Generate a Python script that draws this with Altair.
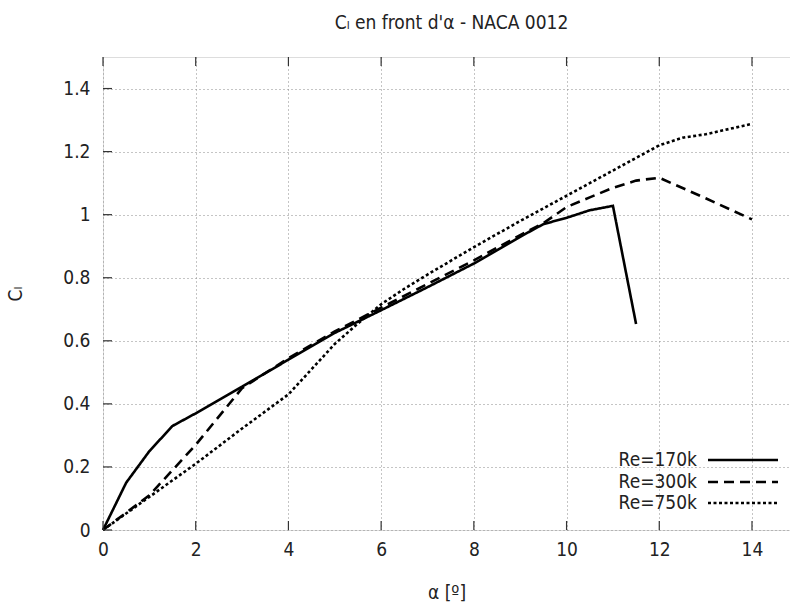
import altair as alt
import pandas as pd

# ---- data ----
series = ["Re=170k", "Re=300k", "Re=750k"]

a_170 = [0, 0.5, 1, 1.5, 2, 3, 4, 5, 6, 7, 8, 9, 9.5, 10, 10.5, 11, 11.5]
cl_170 = [0, 0.15, 0.25, 0.33, 0.37, 0.455, 0.54, 0.625, 0.697, 0.77, 0.845,
          0.93, 0.97, 0.99, 1.014, 1.028, 0.653]

a_300 = [0, 1, 2, 3, 4, 5, 6, 7, 8, 9, 9.5, 10, 10.5, 11, 11.5, 12, 13, 14]
cl_300 = [0, 0.11, 0.27, 0.45, 0.545, 0.63, 0.705, 0.78, 0.855, 0.935, 0.973,
          1.024, 1.055, 1.085, 1.108, 1.117, 1.052, 0.985]

a_750 = [0, 1, 2, 3, 4, 5, 5.5, 6, 6.5, 7, 8, 9, 10, 11, 12, 12.5, 13, 14]
cl_750 = [0, 0.105, 0.21, 0.322, 0.43, 0.59, 0.655, 0.716, 0.765, 0.81, 0.897,
          0.98, 1.06, 1.14, 1.22, 1.244, 1.255, 1.288]

x_ticks = [0, 2, 4, 6, 8, 10, 12, 14]
y_ticks = [0, 0.2, 0.4, 0.6, 0.8, 1.0, 1.2, 1.4]

dashes = [[1, 0], [10, 6], [3, 2.5]]

X_DOM = [0, 14.82]
Y_DOM = [0, 1.5]
W, H = 687, 473
FONT = "DejaVu Sans Condensed, DejaVu Sans"
FS = 19

rows = []
for name, xs, ys in zip(series, [a_170, a_300, a_750], [cl_170, cl_300, cl_750]):
    for i, (a, c) in enumerate(zip(xs, ys)):
        rows.append({"series": name, "a": a, "cl": c, "order": i})
df = pd.DataFrame(rows)

xs = alt.Scale(domain=X_DOM, nice=False, zero=False)
ys = alt.Scale(domain=Y_DOM, nice=False, zero=False)

x_enc = alt.X("a:Q", scale=xs, axis=alt.Axis(
    values=x_ticks, title="α [º]", grid=True, gridDash=[1, 3], gridColor="#8a8a8a",
    gridOpacity=1, domain=False, ticks=False, labelFontSize=FS, labelFont=FONT,
    labelColor="#222", labelPadding=10, titleFont=FONT, titleFontSize=FS,
    titleFontWeight="normal", titleColor="#222", titlePadding=24, labelFlush=False))
y_enc = alt.Y("cl:Q", scale=ys, axis=alt.Axis(
    values=y_ticks, title="Cₗ", format="~g", grid=True, gridDash=[1, 3],
    gridColor="#8a8a8a", gridOpacity=1, domain=False, ticks=False, labelFontSize=FS,
    labelFont=FONT, labelColor="#222", labelPadding=13, titleFont=FONT,
    titleFontSize=FS, titleFontWeight="normal", titleColor="#222", titlePadding=37,
    labelFlush=False))

lines = alt.Chart(df).mark_line(strokeWidth=2.6, color="black", strokeCap="butt").encode(
    x=x_enc, y=y_enc,
    strokeDash=alt.StrokeDash("series:N", scale=alt.Scale(domain=series, range=dashes), legend=None),
    order="order:Q",
)

# inward tick marks (gnuplot style)
tick_len_y = 9 / H * (Y_DOM[1] - Y_DOM[0])
tick_len_x = 9 / W * (X_DOM[1] - X_DOM[0])
tx = pd.DataFrame({"a": x_ticks})
ty = pd.DataFrame({"cl": y_ticks})
bottom_ticks = alt.Chart(tx).mark_rule(color="#333", strokeWidth=1.2).encode(
    x=alt.X("a:Q", scale=xs), y=alt.datum(Y_DOM[0]), y2=alt.datum(Y_DOM[0] + tick_len_y))
top_ticks = alt.Chart(tx).mark_rule(color="#333", strokeWidth=1.2).encode(
    x=alt.X("a:Q", scale=xs), y=alt.datum(Y_DOM[1]), y2=alt.datum(Y_DOM[1] - tick_len_y))
left_ticks = alt.Chart(ty).mark_rule(color="#333", strokeWidth=1.2).encode(
    y=alt.Y("cl:Q", scale=ys), x=alt.datum(X_DOM[0]), x2=alt.datum(X_DOM[0] + tick_len_x))

# legend (labels to the left of the line samples, as in gnuplot)
legend_layers = []
row_y = [403, 425, 446]
for name, dash, yy in zip(series, dashes, row_y):
    ldf = pd.DataFrame({"label": [name]})
    legend_layers.append(alt.Chart(ldf).mark_text(
        align="right", baseline="middle", fontSize=FS, font=FONT, color="#222").encode(
        x=alt.value(594), y=alt.value(yy), text="label:N"))
    legend_layers.append(alt.Chart(ldf).mark_rule(
        color="black", strokeWidth=2.6, strokeDash=dash).encode(
        x=alt.value(605), x2=alt.value(675), y=alt.value(yy)))

chart = alt.layer(lines, bottom_ticks, top_ticks, left_ticks, *legend_layers).properties(
    width=W, height=H,
    title=alt.TitleParams("Cₗ en front d'α - NACA 0012", font=FONT, fontSize=FS,
                          fontWeight="normal", color="#222", anchor="middle", offset=23, dx=5),
    padding={"left": 103, "top": 57, "right": 0, "bottom": 74},
    autosize=alt.AutoSizeParams(type="none"),
).configure_view(stroke="#333", strokeWidth=1.2).configure(background="white")

chart.save("out.html", embed_options={"renderer": "svg", "actions": False})
